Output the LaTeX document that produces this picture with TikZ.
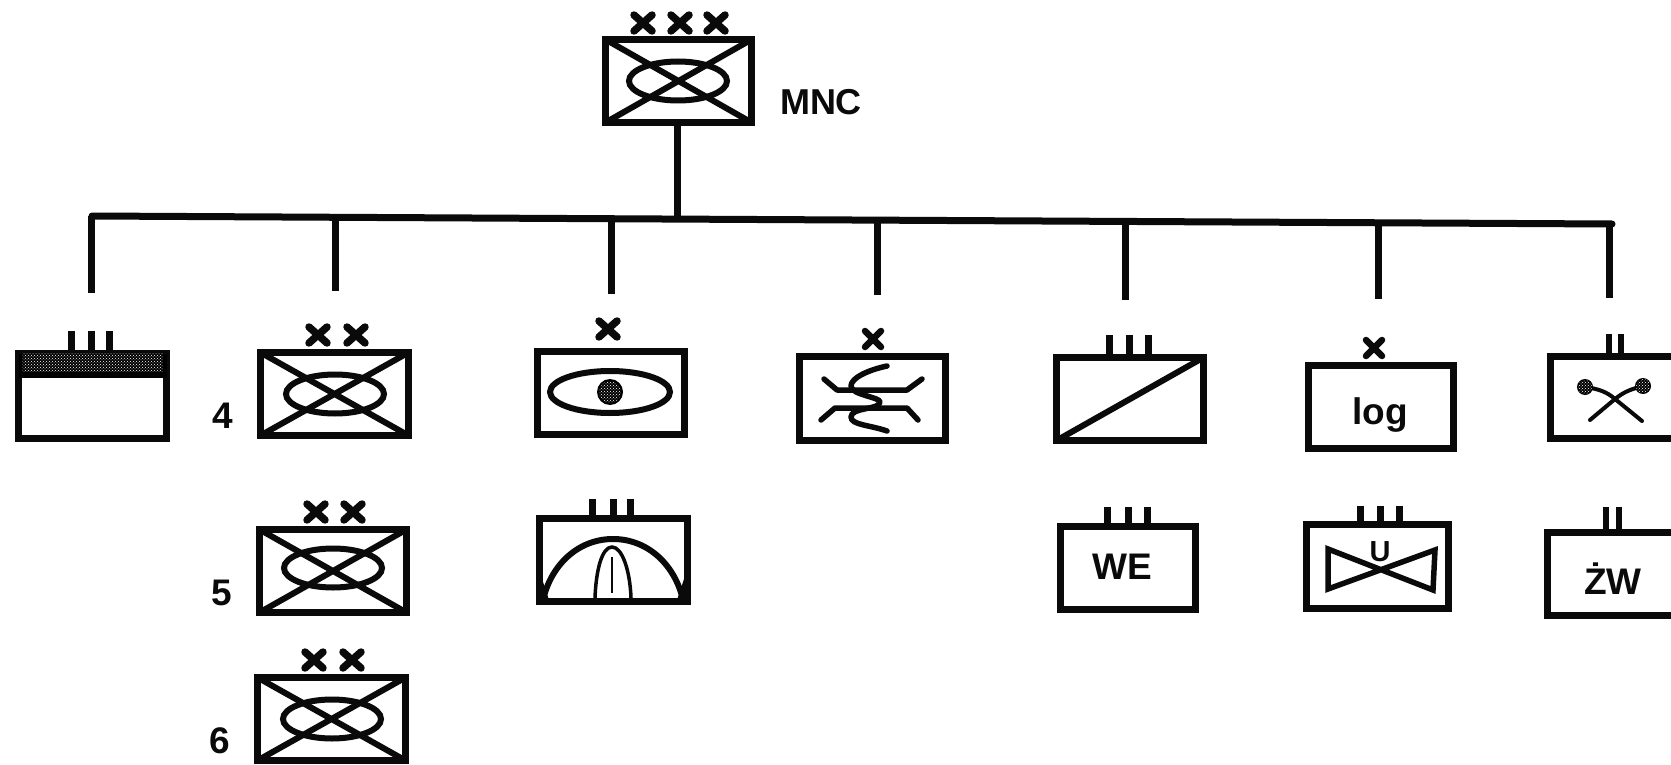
\documentclass[tikz,border=0pt]{standalone}
\usepackage{fontspec}
\setmainfont{Liberation Sans}
\usetikzlibrary{patterns,calc}
\tikzset{
  unit/.style={draw=ink,line width=7pt,rectangle,inner sep=0pt,outer sep=0pt,fill=white},
  ticks/.style={draw=ink,line width=7pt,line cap=round},
  crossmark/.style={draw=ink,line width=7.5pt,line cap=round},
  glyph/.style={draw=ink,line width=6pt},
  thinglyph/.style={draw=ink,line width=5.5pt,line cap=round,line join=round},
  linkline/.style={draw=ink,line width=7pt},
  number/.style={font=\fontsize{37}{40}\selectfont\bfseries,text=ink,inner sep=0pt},
  boxtext/.style={font=\fontsize{37}{40}\selectfont\bfseries,text=ink,inner sep=0pt},
}
\definecolor{ink}{HTML}{0A0A0A}
% name, left, top, right, bottom (outer edges)
\newcommand{\unitbox}[5]{%
  \node[unit,minimum width={#4-#2-7pt},minimum height={#5-#3-7pt}] (#1) at ({(#2+#4)/2},{(#3+#5)/2}) {};}
\newcommand{\xmark}[2]{%
  \draw[crossmark] ($(#1,#2)+(-9,-8)$) -- ($(#1,#2)+(9,8)$) ($(#1,#2)+(-9,8)$) -- ($(#1,#2)+(9,-8)$);}
\newcommand{\xmarksmall}[2]{%
  \draw[crossmark,line width=6.5pt] ($(#1,#2)+(-8,-8)$) -- ($(#1,#2)+(8,8)$) ($(#1,#2)+(-8,8)$) -- ($(#1,#2)+(8,-8)$);}
% infantry sign: box name, ellipse centre
\newcommand{\infsign}[3]{%
  \draw[glyph] (#2,#3) ellipse [x radius=49,y radius=19.5];
  \draw[glyph] (#1.north west) -- (#1.south east) (#1.south west) -- (#1.north east);}
\begin{document}
\begin{tikzpicture}[x=1pt,y=-1pt]
\clip (0,0) rectangle (1671,765);
\fill[white] (0,0) rectangle (1671,765);

% --- top unit
\unitbox{mnc}{602}{36}{755}{126}
\infsign{mnc}{678}{81}
\xmark{643}{23}\xmark{680}{23}\xmark{716}{23}
\node[boxtext,font=\fontsize{36}{40}\selectfont\bfseries] (mnclabel) at (821,102) {MNC};

% --- bus
\coordinate (busL) at (92,216);
\coordinate (busR) at (1612,224);
\coordinate (b1) at (91,216);
\coordinate (b2) at (335,217);
\coordinate (b3) at (611,219);
\coordinate (b4) at (877,220);
\coordinate (b5) at (1125,221);
\coordinate (b6) at (1378,223);
\coordinate (b7) at (1609,224);
\coordinate (d1) at (91,293);
\coordinate (d2) at (335,291);
\coordinate (d3) at (611,294);
\coordinate (d4) at (877,295);
\coordinate (d5) at (1125,300);
\coordinate (d6) at (1378,299);
\coordinate (d7) at (1609,298);
\coordinate (busC) at (677,218);
\draw[linkline] (mnc.south -| busC) -- (busC);
\draw[linkline,line cap=round] (busL) -- (busR);
\foreach \i in {1,...,7} {\draw[linkline] (b\i) -- (d\i);}

% --- box A
\unitbox{a}{15}{350}{170}{442}
\fill[black] (a.north west) rectangle ($(a.north east)+(0,24)$);
\fill[pattern=crosshatch dots,pattern color=white] ($(a.north west)+(4,0)$) rectangle ($(a.north east)+(-4,18)$);
\draw[ticks,line cap=butt] (71,331) -- (71,350) (91,331) -- (91,350) (109,331) -- (109,350);

% --- divisions
\unitbox{d4box}{257}{349}{412}{439}
\infsign{d4box}{335}{394}
\xmark{318}{335}\xmark{356}{335}
\node[number] (n4) at (223,416) {4};

\unitbox{d5box}{256}{526}{410}{616}
\infsign{d5box}{333}{568}
\xmark{316}{512}\xmark{353}{512}
\node[number] (n5) at (222,593) {5};

\unitbox{d6box}{254}{674}{409}{764}
\infsign{d6box}{332}{719}
\xmark{314}{660}\xmark{352}{660}
\node[number] (n6) at (220,741) {6};

% --- eye box
\unitbox{c}{534}{348}{688}{438}
\draw[glyph] (610,392) ellipse [x radius=60,y radius=21];
\fill[black] (610,392) circle (13);
\fill[pattern=crosshatch dots,pattern color=white] (610,392) circle (11);
\xmark{608}{329}

% --- arc box
\unitbox{e}{536}{515}{691}{605}
\draw[ticks,line cap=butt] (592,499) -- (592,515) (613,499) -- (613,515) (630,499) -- (630,515);
\draw[glyph] (543,600) .. controls (551,565) and (578,539) .. (613,539) .. controls (648,539) and (675,565) .. (683,600);
\fill[ink] (539,600) -- (539,570) -- (549,600) -- cycle (687,600) -- (687,570) -- (677,600) -- cycle;
\draw[draw=ink,line width=3.5pt] (595,598) .. controls (596,570) and (602,547) .. (612,547) .. controls (622,547) and (630,570) .. (631,598);
\draw[draw=ink,line width=2pt] (612,557) -- (612,593);

% --- bridge box
\unitbox{dd}{796}{353}{949}{444}
\xmarksmall{873}{339}
\draw[thinglyph] (824,379) -- (837,390) -- (907,390) -- (922,379);
\draw[thinglyph] (821,420) -- (835,408) -- (907,408) -- (918,420);
\draw[thinglyph] (887,366) .. controls (868,370) and (851,378) .. (851,386) .. controls (851,395) and (880,397) .. (880,402) .. controls (880,410) and (851,407) .. (851,417) .. controls (851,425) and (870,425) .. (887,431);

% --- diagonal box
\unitbox{f}{1053}{354}{1207}{444}
\draw[ticks,line cap=butt] (1109,335) -- (1109,354) (1129,335) -- (1129,354) (1148,335) -- (1148,354);
\draw[glyph] (f.south west) -- (f.north east);

% --- log box
\unitbox{g}{1305}{362}{1457}{452}
\xmarksmall{1374}{348}
\node[boxtext] (log) at (1380,415) {log};

% --- crossed box
\unitbox{h}{1547}{353}{1702}{442}
\draw[ticks,line cap=butt,line width=6pt] (1609,334) -- (1609,353) (1621,334) -- (1621,353);
\draw[thinglyph,line width=4pt] (1590,420) -- (1615,399) .. controls (1607,392) and (1599,389) .. (1585,387);
\draw[thinglyph,line width=4pt] (1642,421) -- (1615,399) .. controls (1625,391) and (1632,389) .. (1643,386);
\fill[black] (1585,387) circle (8) (1643,386) circle (8);
\fill[pattern=crosshatch dots,pattern color=white] (1585,387) circle (7) (1643,386) circle (7);

% --- WE box
\unitbox{we}{1057}{523}{1199}{613}
\draw[ticks,line cap=butt] (1107,507) -- (1107,523) (1128,507) -- (1128,523) (1147,507) -- (1147,523);
\node[boxtext] (welabel) at (1122,567) {WE};

% --- U box
\unitbox{u}{1303}{521}{1452}{612}
\draw[ticks,line cap=butt] (1360,506) -- (1360,521) (1380,506) -- (1380,521) (1399,506) -- (1399,521);
\draw[draw=ink,line width=5.5pt,line join=miter] (1328,549) -- (1328,589) -- (1435,550) -- (1433,590) -- cycle;
\node[boxtext,font=\fontsize{29}{30}\selectfont\bfseries] (ulabel) at (1380,552) {U};

% --- ZW box
\unitbox{z}{1544}{529}{1702}{619}
\draw[ticks,line cap=butt,line width=6pt] (1606,507) -- (1606,529) (1619,507) -- (1619,529);
\node[boxtext] (zwlabel) at (1613,579) {ŻW};
\end{tikzpicture}
\end{document}
